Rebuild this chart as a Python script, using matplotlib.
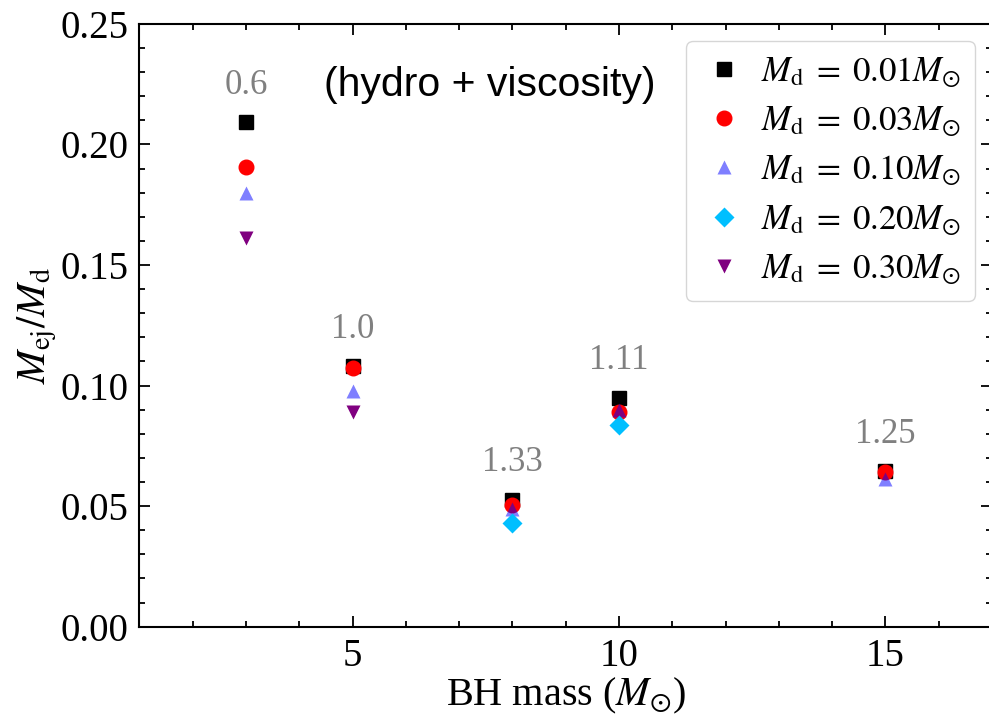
import matplotlib
matplotlib.use('Agg')
import matplotlib.pyplot as plt
from matplotlib.ticker import MultipleLocator

# BH masses and ejecta fractions for each disk mass
bh_mass = [3, 5, 8, 10, 15]

series_x = {
    '0.01': [3, 5, 8, 10, 15],
    '0.03': [3, 5, 8, 10, 15],
    '0.10': [3, 5, 8, 10, 15],
    '0.20': [8, 10],
    '0.30': [3, 5],
}
md001 = [0.2091, 0.1079, 0.0527, 0.0947, 0.0644]
md003 = [0.1906, 0.1074, 0.0506, 0.0889, 0.0642]
md010 = [0.1798, 0.0976, 0.0489, 0.0900, 0.0614]
md020 = [0.0432, 0.0835]
md030 = [0.1611, 0.0889]

# mass-ratio labels above each group
ratio_labels = ['0.6', '1.0', '1.33', '1.11', '1.25']

plt.rcParams['font.family'] = ['Liberation Serif', 'DejaVu Serif']
plt.rcParams['mathtext.fontset'] = 'stix'
plt.rcParams['font.size'] = 26

fig = plt.figure(figsize=(9.89, 7.22), dpi=100)
ax = fig.add_axes([0.141, 0.132, 0.862, 0.835])

ms = 10.5
ax.plot(series_x['0.01'], md001, 's', color='k', ms=ms, label=r'$M_{\rm d}\;=\;0.01M_{\odot}$')
ax.plot(series_x['0.03'], md003, 'o', color='red', ms=ms, label=r'$M_{\rm d}\;=\;0.03M_{\odot}$')
ax.plot(series_x['0.10'], md010, '^', color='blue', alpha=0.5, mec='none', ms=ms,
        label=r'$M_{\rm d}\;=\;0.10M_{\odot}$')
ax.plot(series_x['0.20'], md020, 'D', color='deepskyblue', ms=ms, mec='none',
        label=r'$M_{\rm d}\;=\;0.20M_{\odot}$')
ax.plot(series_x['0.30'], md030, 'v', color='purple', ms=ms, mec='none',
        label=r'$M_{\rm d}\;=\;0.30M_{\odot}$')

# label each BH mass with its ratio, just above the top marker
tops = [max(v) for v in zip(md001, md003, md010)]
for x, top, lab in zip(bh_mass, tops, ratio_labels):
    ax.text(x, top + 0.0155, lab, color='gray', ha='center', va='center', fontsize=25)

ax.text(0.411, 0.898, '(hydro + viscosity)', transform=ax.transAxes,
        ha='center', va='center', fontsize=29.5, family=['Liberation Sans', 'DejaVu Sans'])

ax.set_xlim(1, 17)
ax.set_ylim(0, 0.25)
ax.xaxis.set_major_locator(MultipleLocator(5))
ax.xaxis.set_minor_locator(MultipleLocator(1))
ax.yaxis.set_major_locator(MultipleLocator(0.05))
ax.yaxis.set_minor_locator(MultipleLocator(0.01))
ax.tick_params(which='both', direction='in', top=True, right=True, width=1.3)
ax.tick_params(which='major', length=8, labelsize=28, pad=8)
ax.tick_params(which='minor', length=4)
for sp in ax.spines.values():
    sp.set_linewidth(1.5)

ax.set_xlabel(r'BH mass ($M_{\odot}$)', fontsize=29, labelpad=1)
ax.set_ylabel(r'$M_{\rm ej}/M_{\rm d}$', fontsize=29, labelpad=1)

ax.legend(loc='upper right', numpoints=1, fontsize=25, handletextpad=0.35,
          handlelength=1.4, borderaxespad=0.5, labelspacing=0.42, borderpad=0.4)

fig.savefig('out.png', dpi=100)
